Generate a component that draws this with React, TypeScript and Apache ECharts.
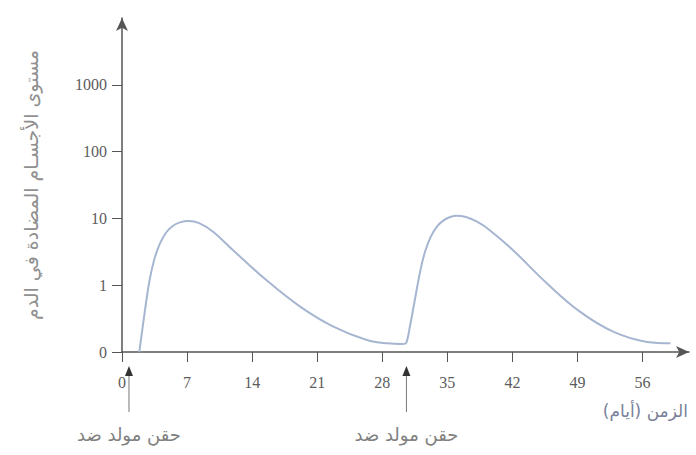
import React, { useEffect, useRef } from "react";
import * as echarts from "echarts";

// Time axis ticks (days)
const xTicks = [0, 7, 14, 21, 28, 35, 42, 49, 56];
// Y axis tick positions and their labels (log-like scale: 0, 1, 10, 100, 1000)
const yTickPositions = [0, 1, 2, 3, 4];
const yTickLabels = ["0", "1", "10", "100", "1000"];

// First response (primary) — day and level in axis scale units
const primaryDays = [1.86, 2.2, 2.6, 3.0, 3.5, 4.1, 4.81, 5.5, 6.24, 7.14, 8.3, 9.8, 11.98, 15.58, 19.16, 22.74, 26.34, 28.5, 30.3];
const primaryLevel = [0, 0.35, 0.75, 1.1, 1.4, 1.63, 1.8, 1.89, 1.94, 1.96, 1.93, 1.8, 1.52, 1.07, 0.68, 0.38, 0.18, 0.13, 0.12];

// Second response (secondary)
const secondaryDays = [30.3, 30.6, 31.0, 31.4, 32.1, 32.6, 33.2, 33.9, 34.6, 35.3, 36.0, 37.0, 38.2, 39.6, 42.1, 45.7, 49.3, 52.9, 56.5, 59.0];
const secondaryLevel = [0.12, 0.14, 0.4, 0.7, 1.22, 1.5, 1.72, 1.88, 1.97, 2.02, 2.04, 2.02, 1.95, 1.82, 1.52, 1.03, 0.6, 0.3, 0.15, 0.13];

// Injection (antigen) days
const injectionDays = [0.75, 30.6];
const injectionLabel = "حقن مولد ضد";

const yTitle = "مستوى الأجسـام المضادة في الدم";
const xTitle = "الزمن (أيام)";

const axisColor = "#555";
const curveColor = "#a6b6d1";

export default function App() {
  const ref = useRef<HTMLDivElement>(null);
  useEffect(() => {
    document.body.style.margin = "0";
    if (!ref.current) return;
    const chart = echarts.init(ref.current, undefined, { renderer: "svg" });
    const serif = "Liberation Serif";
    chart.setOption({
      animation: false,
      backgroundColor: "#fff",
      grid: { left: 122, right: 7, top: 18, bottom: 103 },
      xAxis: {
        type: "value",
        min: 0,
        max: 61,
        interval: 7,
        splitLine: { show: false },
        axisLine: {
          lineStyle: { color: axisColor, width: 1.5 },
          symbol: ["none", "arrow"],
          symbolSize: [9, 13],
        },
        axisTick: { length: 10, lineStyle: { color: axisColor }, customValues: xTicks },
        axisLabel: {
          customValues: xTicks,
          color: "#5c5c5c",
          fontFamily: serif,
          fontSize: 16,
          margin: 22,
        },
      },
      yAxis: {
        type: "value",
        min: 0,
        max: 5,
        interval: 1,
        splitLine: { show: false },
        name: yTitle,
        nameLocation: "middle",
        nameRotate: 90,
        nameGap: 82,
        nameTextStyle: { color: "#909090", fontSize: 19, fontFamily: "DejaVu Sans" },
        axisLine: {
          lineStyle: { color: axisColor, width: 1.5 },
          symbol: ["none", "arrow"],
          symbolSize: [9, 13],
        },
        axisTick: { length: 10, lineStyle: { color: axisColor }, customValues: yTickPositions },
        axisLabel: {
          customValues: yTickPositions,
          formatter: (v: number) => yTickLabels[Math.round(v)] ?? "",
          color: "#5c5c5c",
          fontFamily: serif,
          fontSize: 16,
          margin: 15,
        },
      },
      series: [
        {
          type: "line",
          data: primaryDays.map((d, i) => [d, primaryLevel[i]]),
          smooth: 0.4,
          showSymbol: false,
          lineStyle: { color: curveColor, width: 2 },
        },
        {
          type: "line",
          data: secondaryDays.map((d, i) => [d, secondaryLevel[i]]),
          smooth: 0.4,
          showSymbol: false,
          lineStyle: { color: curveColor, width: 2 },
        },
      ],
    });

    const graphics: any[] = [];
    injectionDays.forEach((d) => {
      const x = chart.convertToPixel({ xAxisIndex: 0 }, d) as number;
      graphics.push(
        { type: "line", shape: { x1: x, y1: 374, x2: x, y2: 412 }, style: { stroke: "#777", lineWidth: 1 } },
        { type: "polygon", shape: { points: [[x, 366], [x - 4, 376], [x + 4, 376]] }, style: { fill: "#333" } },
        {
          type: "text",
          x,
          y: 434,
          style: {
            text: injectionLabel,
            align: "center",
            verticalAlign: "middle",
            fill: "#808080",
            font: "18px 'DejaVu Sans'",
          },
        }
      );
    });
    graphics.push({
      type: "text",
      x: 688,
      y: 411,
      style: {
        text: xTitle,
        align: "right",
        verticalAlign: "middle",
        fill: "#7a7f99",
        font: "17px 'DejaVu Sans'",
      },
    });
    chart.setOption({ graphic: graphics });

    return () => chart.dispose();
  }, []);
  return <div ref={ref} style={{ width: 696, height: 455 }} />;
}
